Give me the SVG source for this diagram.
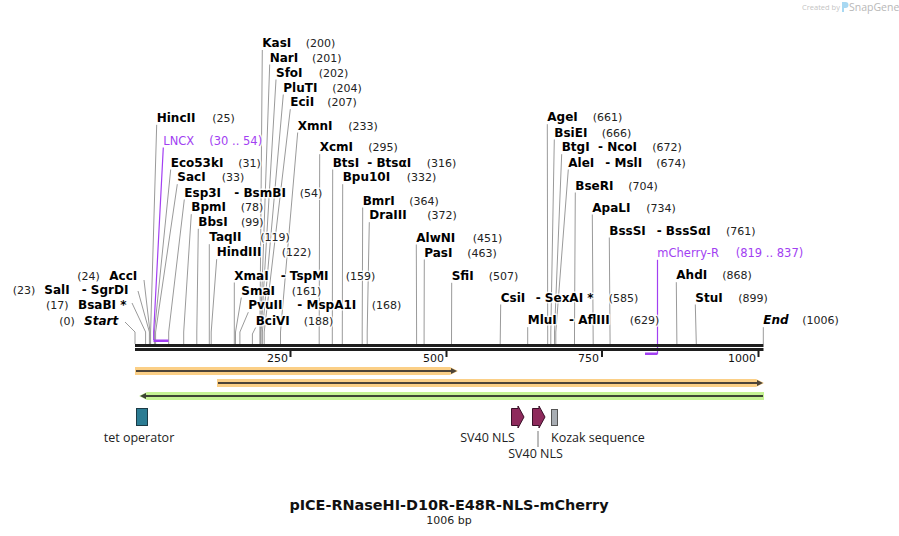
<svg xmlns="http://www.w3.org/2000/svg" width="899" height="536" viewBox="0 0 899 536">
<style>
.n{font-family:"DejaVu Sans",Verdana,sans-serif;font-weight:bold;font-size:12px;fill:#000}
.i{font-style:italic}
.c{font-family:"DejaVu Sans",Verdana,sans-serif;font-size:11px;fill:#222}
.p{font-family:"DejaVu Sans",Verdana,sans-serif;font-size:11.5px;fill:#a23ff2}
.h{paint-order:stroke;stroke:#fff;stroke-width:3px;stroke-opacity:.8;stroke-linejoin:round}
.ln{fill:none;stroke:#9a9a9a;stroke-width:1}
.pl{fill:none;stroke:#a23ff2;stroke-width:1.2}
.f{font-family:"Open Sans","DejaVu Sans",sans-serif;font-size:12.5px;fill:#222}
.t{font-family:"DejaVu Sans",Verdana,sans-serif;font-size:11px;fill:#111}
</style>
<rect width="899" height="536" fill="#fff"/>
<g id="logo">
<text x="802" y="10" font-family="'Open Sans',sans-serif" font-size="7.5" fill="#c4c4c4">Created by</text>
<path d="M842 2h3.5a3 3 0 0 1 0 6h-1.5v4h-2z" fill="#a8d8f2"/>
<text x="849" y="11" font-family="'Open Sans',sans-serif" font-size="10.5" fill="#b8b8b8">SnapGene</text>
</g>
<g id="connectors">
<path class="ln" d="M262.3 50L259.9 332V344"/>
<path class="ln" d="M269.7 64.5L260.5 332V344"/>
<path class="ln" d="M276 79.5L261.1 332V344"/>
<path class="ln" d="M283.3 94.5L262.4 332V344"/>
<path class="ln" d="M290.3 109.2L264.2 332V344"/>
<path class="ln" d="M297.7 132.5L280.5 332V344"/>
<path class="ln" d="M156.7 124.8L150.6 332V344"/>
<path class="ln" d="M170.7 169.5L154.4 332V344"/>
<path class="ln" d="M177.3 184.2L155.6 332V344"/>
<path class="ln" d="M184.3 199.5L168.7 332V344"/>
<path class="ln" d="M191.3 214.2L183.7 332V344"/>
<path class="ln" d="M198.3 228.8L196.8 332V344"/>
<path class="ln" d="M209.3 244.2L209.3 332V344"/>
<path class="ln" d="M216.7 259.2L211.2 332V344"/>
<path class="ln" d="M234.3 282.5L234.3 332V344"/>
<path class="ln" d="M241.3 297.5L235.5 332V344"/>
<path class="ln" d="M248.3 312.2L239.9 332V344"/>
<path class="ln" d="M255.7 327.5L252.4 334V344"/>
<path class="ln" d="M319.7 154.2L319.2 332V344"/>
<path class="ln" d="M332.7 169.5L332.3 332V344"/>
<path class="ln" d="M342.7 184.2L342.3 332V344"/>
<path class="ln" d="M362.7 207.5L362.2 332V344"/>
<path class="ln" d="M369.3 222.2L367.2 332V344"/>
<path class="ln" d="M416.3 244.5L416.6 332V344"/>
<path class="ln" d="M424.3 259.5L424.1 332V344"/>
<path class="ln" d="M451.7 282.8L451.5 344"/>
<path class="ln" d="M500.7 304.5L500.2 344"/>
<path class="ln" d="M527.7 327.2L527.7 344"/>
<path class="ln" d="M547.3 124.2L547.7 332V344"/>
<path class="ln" d="M554.3 139.5L550.8 332V344"/>
<path class="ln" d="M561.7 154.2L554.5 332V344"/>
<path class="ln" d="M568.3 169.5L555.8 332V344"/>
<path class="ln" d="M575.3 192.5L574.5 332V344"/>
<path class="ln" d="M592.3 214.5L593.2 344"/>
<path class="ln" d="M609.3 237.5L610.1 344"/>
<path class="ln" d="M676.3 282.2L676.9 344"/>
<path class="ln" d="M695.3 304.5L696.3 344"/>
<path class="ln" d="M763.3 327.2V344"/>
<path class="ln" d="M144 280L150 332V344"/>
<path class="ln" d="M138 291L149.4 332V344"/>
<path class="ln" d="M132 303L145.6 332V344"/>
<path class="ln" d="M125 322L135 332V344"/>
<path class="pl" d="M163.3 147.5L153.7 332V340"/>
<path class="pl" d="M657.5 259.8V354"/>
<path d="M538 431V447" stroke="#777" stroke-width="1"/>
</g>
<g id="backbone">
<rect x="135" y="344" width="628.5" height="3" fill="#1e1e1e"/>
<rect x="135" y="348" width="628.5" height="3" fill="#1e1e1e"/>
<rect x="153.5" y="339.5" width="15" height="2.5" fill="#a23ff2"/>
<rect x="645" y="352.5" width="12.5" height="2.5" fill="#a23ff2"/>
<g fill="#1e1e1e"><rect x="289.5" y="351" width="2" height="6"/><rect x="445.5" y="351" width="2" height="6"/><rect x="601" y="351" width="2" height="6"/><rect x="757.5" y="351" width="2" height="6"/></g>
<text class="t" x="288" y="362" text-anchor="end">250</text>
<text class="t" x="444" y="362" text-anchor="end">500</text>
<text class="t" x="599" y="362" text-anchor="end">750</text>
<text class="t" x="756" y="362" text-anchor="end">1000</text>
</g>
<g id="orf1">
<path d="M135 367H450L458 371L450 375H135Z" fill="#fbcf86"/>
<path d="M136 371H452" stroke="#4d4438" stroke-width="2"/>
<path d="M451 368L457 371L451 374Z" fill="#4d4438"/>
</g>
<g id="orf2">
<path d="M217 379H756L764 383L756 387H217Z" fill="#fbcf86"/>
<path d="M218 383H758" stroke="#4d4438" stroke-width="2"/>
<path d="M757 380L763 383L757 386Z" fill="#4d4438"/>
</g>
<g id="orf3">
<path d="M764 392H147L139 396L147 400H764Z" fill="#c5f293"/>
<path d="M763 396H145" stroke="#3d4433" stroke-width="2"/>
<path d="M146 393L140 396L146 399Z" fill="#3d4433"/>
</g>
<g id="tet-operator">
<rect x="136.5" y="408.5" width="11" height="17" fill="#2b7c93" stroke="#1b3b46"/>
<text class="f" x="139" y="442" text-anchor="middle">tet operator</text>
</g>
<g id="sv40-nls-1">
<path d="M511.5 408.5H518V406L524 417L518 428V425.5H511.5Z" fill="#8e2a5c" stroke="#3a1028"/>
<text class="f" x="487.5" y="442" text-anchor="middle">SV40 NLS</text>
</g>
<g id="sv40-nls-2">
<path d="M532.5 408.5H539V406L545 417L539 428V425.5H532.5Z" fill="#8e2a5c" stroke="#3a1028"/>
<text class="f" x="535.5" y="458" text-anchor="middle">SV40 NLS</text>
</g>
<g id="kozak">
<rect x="551.5" y="409.5" width="6" height="16" fill="#a8adb3" stroke="#555"/>
<text class="f" x="551" y="442">Kozak sequence</text>
</g>
<g id="KasI"><text class="n h" x="262.3" y="46.8">KasI</text><text class="c h" x="305.7" y="46.8">(200)</text></g>
<g id="NarI"><text class="n h" x="269.7" y="61.5">NarI</text><text class="c h" x="312" y="61.5">(201)</text></g>
<g id="SfoI"><text class="n h" x="276" y="76.5">SfoI</text><text class="c h" x="318.7" y="76.5">(202)</text></g>
<g id="PluTI"><text class="n h" x="283.3" y="91.5">PluTI</text><text class="c h" x="332.3" y="91.5">(204)</text></g>
<g id="EciI"><text class="n h" x="290.3" y="106.2">EciI</text><text class="c h" x="327.3" y="106.2">(207)</text></g>
<g id="XmnI"><text class="n h" x="297.7" y="129.5">XmnI</text><text class="c h" x="348.3" y="129.5">(233)</text></g>
<g id="HincII"><text class="n h" x="156.7" y="121.8">HincII</text><text class="c h" x="212.3" y="121.8">(25)</text></g>
<g id="LNCX"><text class="p h" x="163.3" y="144.5">LNCX</text><text class="p h" x="209.3" y="144.5">(30 .. 54)</text></g>
<g id="Eco53kI"><text class="n h" x="170.7" y="166.5">Eco53kI</text><text class="c h" x="238.3" y="166.5">(31)</text></g>
<g id="SacI"><text class="n h" x="177.3" y="181.2">SacI</text><text class="c h" x="221.7" y="181.2">(33)</text></g>
<g id="Esp3I"><text class="n h" x="184.3" y="196.5">Esp3I</text><text class="n h" x="234.3" y="196.5">- BsmBI</text><text class="c h" x="299.7" y="196.5">(54)</text></g>
<g id="BpmI"><text class="n h" x="191.3" y="211.2">BpmI</text><text class="c h" x="240.7" y="211.2">(78)</text></g>
<g id="BbsI"><text class="n h" x="198.3" y="225.8">BbsI</text><text class="c h" x="241" y="225.8">(99)</text></g>
<g id="TaqII"><text class="n h" x="209.3" y="241.2">TaqII</text><text class="c h" x="260.3" y="241.2">(119)</text></g>
<g id="HindIII"><text class="n h" x="216.7" y="256.2">HindIII</text><text class="c h" x="281.7" y="256.2">(122)</text></g>
<g id="XmaI"><text class="n h" x="234.3" y="279.5">XmaI</text><text class="n h" x="280.7" y="279.5">- TspMI</text><text class="c h" x="345.7" y="279.5">(159)</text></g>
<g id="SmaI"><text class="n h" x="241.3" y="294.5">SmaI</text><text class="c h" x="291.7" y="294.5">(161)</text></g>
<g id="PvuII"><text class="n h" x="248.3" y="309.2">PvuII</text><text class="n h" x="297.3" y="309.2">- MspA1I</text><text class="c h" x="371.7" y="309.2">(168)</text></g>
<g id="BciVI"><text class="n h" x="255.7" y="324.5">BciVI</text><text class="c h" x="303.7" y="324.5">(188)</text></g>
<g id="XcmI"><text class="n h" x="319.7" y="151.2">XcmI</text><text class="c h" x="368.3" y="151.2">(295)</text></g>
<g id="BtsI"><text class="n h" x="332.7" y="166.5">BtsI</text><text class="n h" x="367.3" y="166.5">- BtsαI</text><text class="c h" x="426.7" y="166.5">(316)</text></g>
<g id="Bpu10I"><text class="n h" x="342.7" y="181.2">Bpu10I</text><text class="c h" x="406.7" y="181.2">(332)</text></g>
<g id="BmrI"><text class="n h" x="362.7" y="204.5">BmrI</text><text class="c h" x="409.3" y="204.5">(364)</text></g>
<g id="DraIII"><text class="n h" x="369.3" y="219.2">DraIII</text><text class="c h" x="427.3" y="219.2">(372)</text></g>
<g id="AlwNI"><text class="n h" x="416.3" y="241.5">AlwNI</text><text class="c h" x="472.7" y="241.5">(451)</text></g>
<g id="PasI"><text class="n h" x="424.3" y="256.5">PasI</text><text class="c h" x="467.3" y="256.5">(463)</text></g>
<g id="SfiI"><text class="n h" x="451.7" y="279.8">SfiI</text><text class="c h" x="488.7" y="279.8">(507)</text></g>
<g id="CsiI"><text class="n h" x="500.7" y="301.5">CsiI</text><text class="n h" x="535.7" y="301.5">- SexAI *</text><text class="c h" x="608.7" y="301.5">(585)</text></g>
<g id="MluI"><text class="n h" x="527.7" y="324.2">MluI</text><text class="n h" x="569" y="324.2">- AflIII</text><text class="c h" x="629.7" y="324.2">(629)</text></g>
<g id="AgeI"><text class="n h" x="547.3" y="121.2">AgeI</text><text class="c h" x="592.7" y="121.2">(661)</text></g>
<g id="BsiEI"><text class="n h" x="554.3" y="136.5">BsiEI</text><text class="c h" x="601.7" y="136.5">(666)</text></g>
<g id="BtgI"><text class="n h" x="561.7" y="151.2">BtgI</text><text class="n h" x="598" y="151.2">- NcoI</text><text class="c h" x="652.3" y="151.2">(672)</text></g>
<g id="AleI"><text class="n h" x="568.3" y="166.5">AleI</text><text class="n h" x="605.3" y="166.5">- MslI</text><text class="c h" x="656.3" y="166.5">(674)</text></g>
<g id="BseRI"><text class="n h" x="575.3" y="189.5">BseRI</text><text class="c h" x="628.3" y="189.5">(704)</text></g>
<g id="ApaLI"><text class="n h" x="592.3" y="211.5">ApaLI</text><text class="c h" x="646.3" y="211.5">(734)</text></g>
<g id="BssSI"><text class="n h" x="609.3" y="234.5">BssSI</text><text class="n h" x="656.7" y="234.5">- BssSαI</text><text class="c h" x="726" y="234.5">(761)</text></g>
<g id="mCherry-R"><text class="p h" x="657.3" y="256.8">mCherry-R</text><text class="p h" x="735.7" y="256.8">(819 .. 837)</text></g>
<g id="AhdI"><text class="n h" x="676.3" y="279.2">AhdI</text><text class="c h" x="722.3" y="279.2">(868)</text></g>
<g id="StuI"><text class="n h" x="695.3" y="301.5">StuI</text><text class="c h" x="738.3" y="301.5">(899)</text></g>
<g id="End"><text class="n i h" x="763.3" y="324.2">End</text><text class="c h" x="802.3" y="324.2">(1006)</text></g>
<g id="AccI"><text class="c h" x="77.3" y="279.5">(24)</text><text class="n h" x="109.3" y="279.5">AccI</text></g>
<g id="SalI"><text class="c h" x="12.7" y="294.2">(23)</text><text class="n h" x="44.3" y="294.2">SalI</text><text class="n h" x="81.7" y="294.2">- SgrDI</text></g>
<g id="BsaBI"><text class="c h" x="46" y="309">(17)</text><text class="n h" x="78" y="309">BsaBI *</text></g>
<g id="Start"><text class="c h" x="59.3" y="324.5">(0)</text><text class="n i h" x="84" y="324.5">Start</text></g>
<g id="title">
<text x="449" y="510" text-anchor="middle" font-family="'DejaVu Sans',Verdana,sans-serif" font-weight="bold" font-size="14.4" fill="#111">pICE-RNaseHI-D10R-E48R-NLS-mCherry</text>
<text x="449" y="524" text-anchor="middle" font-family="'DejaVu Sans',Verdana,sans-serif" font-size="11" fill="#222">1006 bp</text>
</g>
</svg>
